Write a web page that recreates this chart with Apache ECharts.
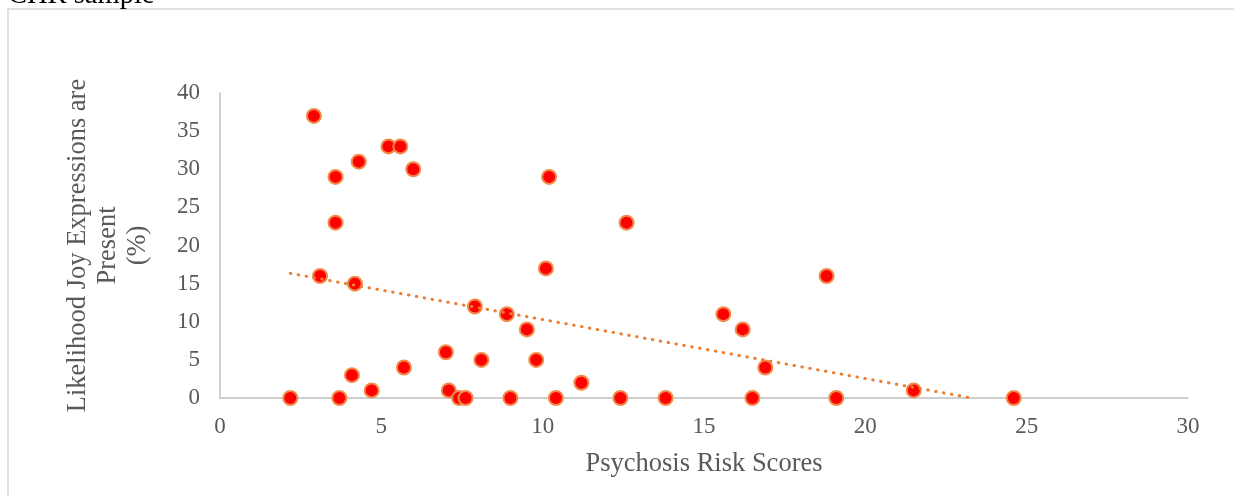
<!DOCTYPE html>
<html>
<head>
<meta charset="utf-8">
<script src="https://cdn.jsdelivr.net/npm/echarts@6/dist/echarts.min.js"></script>
<style>
html,body{margin:0;padding:0;background:#fff;}
#chart{width:1234px;height:496px;}
</style>
</head>
<body>
<div id="chart"></div>
<script>
// Data
const riskScores = [2.18, 2.91, 3.10, 3.58, 3.58, 3.70, 4.09, 4.18, 4.30, 4.70,
  5.22, 5.59, 5.70, 5.99, 7.00, 7.09, 7.41, 7.61, 7.90, 8.10,
  8.89, 9.00, 9.51, 9.80, 10.10, 10.20, 10.41, 11.20, 12.41, 12.60,
  13.81, 15.60, 16.20, 16.50, 16.90, 18.80, 19.10, 21.50, 24.60];
const joyLikelihood = [0, 37, 16, 29, 23, 0, 3, 15, 31, 1,
  33, 33, 4, 30, 6, 1, 0, 0, 12, 5,
  11, 0, 9, 5, 17, 29, 0, 2, 0, 23,
  0, 11, 9, 0, 4, 16, 0, 1, 0];
const titleText = 'CHR sample';
const xTitle = 'Psychosis Risk Scores';
const yTitle = 'Likelihood Joy Expressions are\nPresent\n(%)';

// Linear trendline (least squares) computed from the data
const n = riskScores.length;
const mx = riskScores.reduce((a, b) => a + b, 0) / n;
const my = joyLikelihood.reduce((a, b) => a + b, 0) / n;
let sxy = 0, sxx = 0;
for (let i = 0; i < n; i++) {
  sxy += (riskScores[i] - mx) * (joyLikelihood[i] - my);
  sxx += (riskScores[i] - mx) * (riskScores[i] - mx);
}
const slope = sxy / sxx;
const intercept = my - slope * mx;
const xMin = Math.min(...riskScores);
const xMax = Math.max(...riskScores);
let xEnd = xMax;
if (slope < 0 && intercept + slope * xMax < 0) xEnd = -intercept / slope;
const trend = [[xMin, intercept + slope * xMin], [xEnd, intercept + slope * xEnd]];

const points = riskScores.map((x, i) => [x, joyLikelihood[i]]);

const font = '"Liberation Serif", "Times New Roman", serif';
const chart = echarts.init(document.getElementById('chart'), null, {renderer: 'canvas'});
chart.setOption({
  animation: false,
  backgroundColor: '#fff',
  grid: {left: 220, right: 46, top: 93, bottom: 98, containLabel: false},
  graphic: [
    {type: 'rect', shape: {x: 8, y: 9, width: 1400, height: 700},
     style: {fill: 'none', stroke: '#d9d9d9', lineWidth: 1.5}, silent: true, z: -10},
    {type: 'text', left: 8, top: -19,
     style: {text: titleText, font: '28.5px ' + font, fill: '#000'}}
  ],
  xAxis: {
    type: 'value', min: 0, max: 30, interval: 5,
    name: xTitle, nameLocation: 'middle', nameGap: 53,
    nameTextStyle: {fontFamily: font, fontSize: 26.5, color: '#595959'},
    axisLine: {show: true, lineStyle: {color: '#c0c0c0', width: 1.5}},
    axisTick: {show: false},
    splitLine: {show: false},
    axisLabel: {fontFamily: font, fontSize: 23, color: '#595959', margin: 17}
  },
  yAxis: {
    type: 'value', min: 0, max: 40, interval: 5,
    name: yTitle, nameLocation: 'middle', nameGap: 67, nameRotate: 90,
    nameTextStyle: {fontFamily: font, fontSize: 26.5, color: '#595959', lineHeight: 30, align: 'center'},
    axisLine: {show: true, lineStyle: {color: '#c0c0c0', width: 1.5}},
    axisTick: {show: false},
    splitLine: {show: false},
    axisLabel: {fontFamily: font, fontSize: 23, color: '#595959', margin: 20}
  },
  series: [
    {
      type: 'scatter', data: points, symbol: 'circle', symbolSize: 14, z: 2,
      itemStyle: {color: '#ff0000', borderColor: '#f08a4b', borderWidth: 2, opacity: 1}
    },
    {
      type: 'line', data: trend, symbol: 'none', z: 3, clip: true,
      lineStyle: {color: '#ed7d31', width: 3, type: [0.5, 7.5], cap: 'round'}
    }
  ]
});
</script>
</body>
</html>
